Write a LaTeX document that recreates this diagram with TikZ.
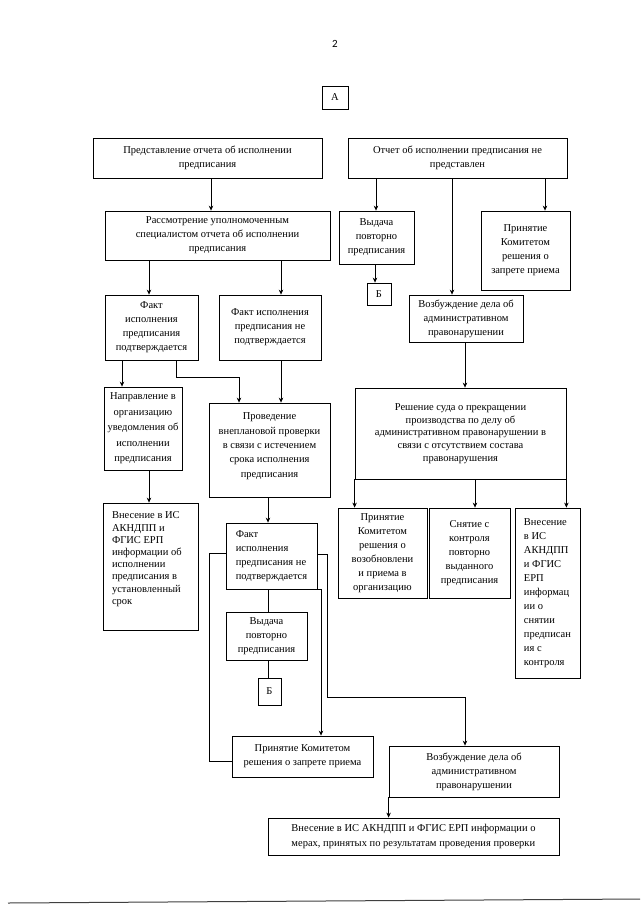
\documentclass[tikz,border=0pt]{standalone}
\usepackage{fontspec}
\setmainfont{Liberation Serif}
\newfontfamily\pagefont{Carlito}
\usetikzlibrary{arrows.meta}
\begin{document}
\begin{tikzpicture}[x=1pt,y=-1pt,
  box/.style={draw, line width=0.8pt, align=center, inner sep=1pt, font=\fontsize{10.5}{14}\selectfont},
  lbox/.style={box, align=left},
  arr/.style={line width=0.7pt, -{Stealth[length=5pt,width=4.5pt]}},
  ln/.style={line width=0.7pt}]
\useasboundingbox (0,0) rectangle (640,905);
\fill[white] (0,0) rectangle (640,905);

% page number
\node[font=\pagefont\fontsize{11}{13}\selectfont] (pg) at (335,44) {2};

% column coordinates
\foreach \x in {211,376,452,545,149,281,375,122,176,239,465,475,268,209,321,327}
  \coordinate (X\x) at (\x,0);
\coordinate (K1) at (327,697);

% boxes
\node[box, minimum width=26, minimum height=23] (A) at (335,97.5) {А};
\node[box, minimum width=229, minimum height=40] (b1) at (207.5,158) {Представление отчета об исполнении\\предписания};
\node[box, minimum width=219, minimum height=40] (b2) at (457.5,158) {Отчет об исполнении предписания не\\представлен};
\node[box, minimum width=225, minimum height=49] (rass) at (217.5,235.5) {Рассмотрение уполномоченным\\специалистом отчета об исполнении\\предписания};
\node[box, minimum width=75, minimum height=53] (vyd1) at (376.5,237.5) {Выдача\\повторно\\предписания};
\node[box, minimum width=89, minimum height=79] (pz1) at (525.5,250.5) {Принятие\\Комитетом\\решения о\\запрете приема};
\node[box, minimum width=24, minimum height=22] (B1) at (379,294) {Б};
\node[box, minimum width=114, minimum height=47] (vz1) at (466,318.5) {Возбуждение дела об\\административном\\правонарушении};
\node[box, minimum width=93, minimum height=65] (fp) at (151.5,327.5) {Факт\\исполнения\\предписания\\подтверждается};
\node[box, minimum width=102, minimum height=65] (fn) at (270,327.5) {Факт исполнения\\предписания не\\подтверждается};
\node[box, minimum width=78, minimum height=83, font=\fontsize{10.5}{15.5}\selectfont] (napr) at (143,428.5) {Направление в\\организацию\\уведомления об\\исполнении\\предписания};
\node[box, inner sep=0pt, font=\fontsize{10.5}{14.3}\selectfont] (prov) at (269.5,450)
  {\parbox[c][94pt][t]{121pt}{\vspace*{10pt}\centering Проведение\\внеплановой проверки\\в связи с истечением\\срока исполнения\\предписания}};
\node[box, minimum width=211, minimum height=91, font=\fontsize{10.5}{12.7}\selectfont] (resh) at (460.5,433.5) {Решение суда о прекращении\\производства по делу об\\административном правонарушении в\\связи с отсутствием состава\\правонарушения};
\node[box, inner sep=0pt, font=\fontsize{10.5}{12.2}\selectfont] (vl) at (150.5,566.5)
  {\parbox[c][127pt][t]{95pt}{\vspace*{9pt}\raggedright\leftskip=9pt Внесение в ИС\\АКНДПП и\\ФГИС ЕРП\\информации об\\исполнении\\предписания в\\установленный\\срок}};
\node[box, minimum width=89, minimum height=90] (pv) at (382.5,553) {Принятие\\Комитетом\\решения о\\возобновлени\\и приема в\\организацию};
\node[box, minimum width=81, minimum height=90] (sn) at (469.5,553) {Снятие с\\контроля\\повторно\\выданного\\предписания};
\node[lbox, minimum width=65, minimum height=170] (vr) at (547.5,593) {Внесение\\в ИС\\АКНДПП\\и ФГИС\\ЕРП\\информац\\ии о\\снятии\\предписан\\ия с\\контроля};
\node[lbox, minimum width=91, minimum height=66] (f2) at (271.5,556) {Факт\\исполнения\\предписания не\\подтверждается};
\node[box, minimum width=81, minimum height=48] (vyd2) at (266.5,636) {Выдача\\повторно\\предписания};
\node[box, minimum width=23, minimum height=27] (B2) at (269.5,691.5) {Б};
\node[box, minimum width=141, minimum height=41] (pz2) at (302.5,756.5) {Принятие Комитетом\\решения о запрете приема};
\node[box, minimum width=170, minimum height=51] (vz2) at (474,771.5) {Возбуждение дела об\\административном\\правонарушении};
\node[lbox, minimum width=291, minimum height=37, font=\fontsize{10.5}{15}\selectfont] (bot) at (413.5,836.5) {Внесение в ИС АКНДПП и ФГИС ЕРП информации о\\мерах, принятых по результатам проведения проверки};

\coordinate (pz2w) at ([yshift=-5pt]pz2.west);
\coordinate (f2w) at ([yshift=3pt]f2.west);
\coordinate (f2e) at ([yshift=2pt]f2.east);

% connectors
\draw[arr] (b1.south -| X211) -- (rass.north -| X211);
\draw[arr] (b2.south -| X376) -- (vyd1.north -| X376);
\draw[arr] (b2.south -| X452) -- (vz1.north -| X452);
\draw[arr] (b2.south -| X545) -- (pz1.north -| X545);
\draw[arr] (rass.south -| X149) -- (fp.north -| X149);
\draw[arr] (rass.south -| X281) -- (fn.north -| X281);
\draw[arr] (vyd1.south -| X375) -- (B1.north -| X375);
\draw[arr] (fp.south -| X122) -- (napr.north -| X122);
\draw[arr] (fp.south -| X176) -- ++(0,17) -| (prov.north -| X239);
\draw[arr] (fn.south -| X281) -- (prov.north -| X281);
\draw[arr] (vz1.south -| X465) -- (resh.north -| X465);
\draw[arr] (napr.south -| X149) -- (vl.north -| X149);
\draw[arr] (resh.south west) -- (resh.south west |- pv.north);
\draw[arr] (resh.south -| X475) -- (sn.north -| X475);
\draw[arr] (resh.south east) -- (resh.south east |- vr.north);
\draw[arr] (prov.south -| X268) -- (f2.north -| X268);
\draw[ln] (f2.south -| X268) -- (vyd2.north -| X268);
\draw[ln] (vyd2.south -| X268) -- (B2.north -| X268);
\draw[ln] (f2w) -| (X209 |- pz2w) -- (pz2w);
\draw[arr] (f2e) -| (K1) -| (vz2.north -| X465);
\draw[arr] (f2.south east) -| (pz2.north -| X321);
\draw[arr] (vz2.south west) -- (vz2.south west |- bot.north);

% scan edge
\draw[line width=1pt, black!75] (8,903) -- (640,899);
\end{tikzpicture}
\end{document}
